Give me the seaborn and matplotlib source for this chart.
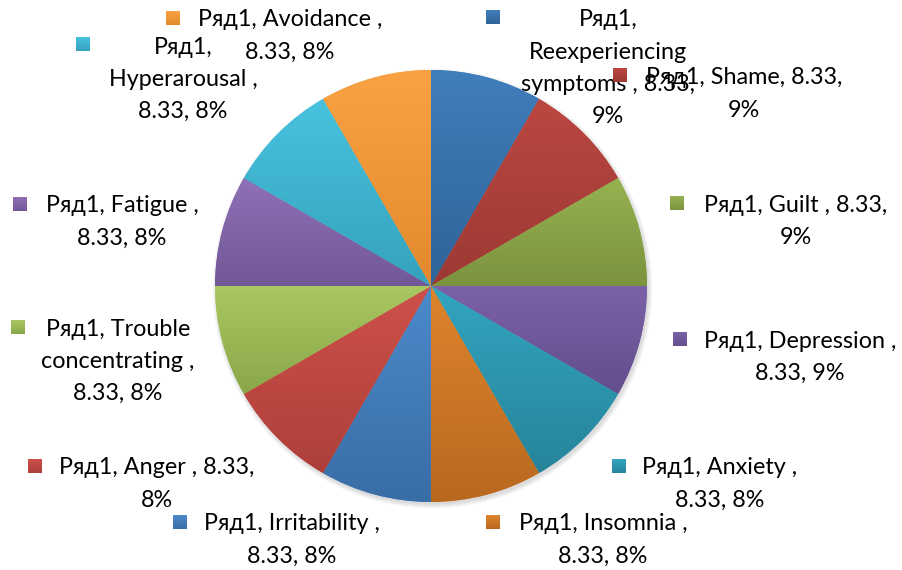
import numpy as np
import matplotlib
matplotlib.use("Agg")
import matplotlib.pyplot as plt
import matplotlib.colors as mcolors
from matplotlib.patches import Rectangle, Circle
import seaborn as sns

# --- данные ---
categories = ["Reexperiencing symptoms", "Shame", "Guilt", "Depression", "Anxiety",
              "Insomnia", "Irritability", "Anger", "Trouble concentrating",
              "Fatigue", "Hyperarousal", "Avoidance"]
values = [8.33, 8.33, 8.33, 8.33, 8.33, 8.33, 8.33, 8.33, 8.33, 8.33, 8.33, 8.33]
pct_labels = ["9%", "9%", "9%", "9%", "8%", "8%", "8%", "8%", "8%", "8%", "8%", "8%"]
colors_top = ["#407EBC", "#BC4741", "#96B250", "#7B62A8", "#33A5C0", "#DE842D",
              "#4C8ACB", "#CE514A", "#A9C862", "#8E71B6", "#48C2DE", "#FAA243"]
colors_bot = ["#2F6398", "#9C3934", "#7B933F", "#634D8A", "#26849A", "#B8691F",
              "#396DA6", "#AD3F3A", "#89A748", "#725897", "#35A2BC", "#E2892D"]

# текст подписей (перенос строк как в оригинале)
label_texts = [
    "Ряд1,\nReexperiencing\nsymptoms , 8.33,\n9%",
    "Ряд1, Shame, 8.33,\n9%",
    "Ряд1, Guilt , 8.33,\n9%",
    "Ряд1, Depression ,\n8.33, 9%",
    "Ряд1, Anxiety ,\n8.33, 8%",
    "Ряд1, Insomnia ,\n8.33, 8%",
    "Ряд1, Irritability ,\n8.33, 8%",
    "Ряд1, Anger , 8.33,\n8%",
    "Ряд1, Trouble\nconcentrating ,\n8.33, 8%",
    "Ряд1, Fatigue ,\n8.33, 8%",
    "Ряд1,\nHyperarousal ,\n8.33, 8%",
    "Ряд1, Avoidance ,\n8.33, 8%",
]

sns.set_style("white")
plt.rcParams['font.family'] = ['Lato', 'DejaVu Sans']

W, H = 903, 570
fig = plt.figure(figsize=(W / 100, H / 100), dpi=100)
ax = fig.add_axes([0, 0, 1, 1])
ax.set_xlim(0, W)
ax.set_ylim(0, H)
ax.axis('off')

cx, cy, r = 431, H - 286, 216

# мягкая тень
for k in range(6):
    ax.add_patch(Circle((cx + 1.5, cy - 2.5), r + 4 - k * 0.8, color='black',
                        alpha=0.025, lw=0, zorder=0))

wedges, _ = ax.pie(values, colors=colors_top, startangle=90, counterclock=False,
                   center=(cx, cy), radius=r, wedgeprops=dict(linewidth=0),
                   frame=True)

# градиент в каждом секторе
grad = np.linspace(0, 1, 256).reshape(-1, 1)
for w, ct, cb in zip(wedges, colors_top, colors_bot):
    ext = w.get_path().get_extents()
    cmap = mcolors.LinearSegmentedColormap.from_list("g", [cb, ct])
    im = ax.imshow(grad, extent=[ext.x0, ext.x1, ext.y0, ext.y1], origin='lower',
                   cmap=cmap, aspect='auto', zorder=w.get_zorder() + 0.1,
                   interpolation='bilinear')
    im.set_clip_path(w)

# позиции подписей: (центр текста x, y первой строки, маркер x, маркер y)
label_pos = [
    (608, 20, 493, 17),
    (744, 78, 620, 75),
    (796, 205, 677, 203),
    (800, 341, 680, 339),
    (720, 468, 619, 466),
    (603, 524, 493, 522),
    (292, 524, 180, 522),
    (157, 468, 35, 466),
    (118, 329, 18, 327),
    (122, 206, 20, 204),
    (183, 47, 83, 44),
    (290, 20, 173, 18),
]

fs = 16.8
line_h = 32.3
for txt, (tx, ty, mx, my), ct, cb in zip(label_texts, label_pos, colors_top, colors_bot):
    # каждая строка отдельно, чтобы межстрочный интервал был как в Excel
    for i, line in enumerate(txt.split("\n")):
        ax.text(tx, H - (ty + i * line_h), line, ha='center', va='center',
                fontsize=fs, color='black', zorder=5)
    s = 14
    sq = Rectangle((mx - s / 2, H - my - s / 2), s, s, lw=0, zorder=5)
    ax.add_patch(sq)
    ext = sq.get_path().get_extents(sq.get_patch_transform())
    cmap = mcolors.LinearSegmentedColormap.from_list("g", [cb, ct])
    im = ax.imshow(grad, extent=[ext.x0, ext.x1, ext.y0, ext.y1], origin='lower',
                   cmap=cmap, aspect='auto', zorder=5.1)
    im.set_clip_path(sq)

ax.set_xlim(0, W)
ax.set_ylim(0, H)
ax.set_aspect('auto')
ax.axis('off')

fig.savefig("out.png", dpi=100, facecolor='white')
